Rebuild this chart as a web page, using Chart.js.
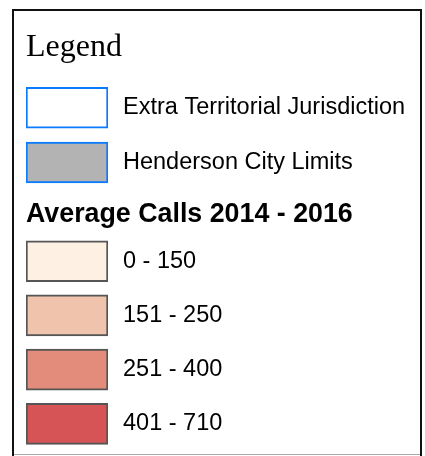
<!DOCTYPE html>
<html>
<head>
<meta charset="utf-8">
<script src="https://cdn.jsdelivr.net/npm/chart.js@4.4.1/dist/chart.umd.min.js"></script>
<style>
  html, body { margin: 0; padding: 0; background: #fff; overflow: hidden; }
  #box {
    position: absolute; left: 12px; top: 9px; width: 410px; height: 470px;
    border: 2px solid #111; box-sizing: border-box;
  }
  .wrap { position: absolute; left: 0; width: 406px; }
  #w1 { top: 0; height: 208px; }
  #w2 { top: 180px; height: 289px; }
  #rule { position: absolute; left: 0; top: 443px; width: 406px; height: 1px; background: #aaa; }
</style>
</head>
<body>
<div id="box">
  <div class="wrap" id="w1"><canvas id="boundaryChart"></canvas></div>
  <div class="wrap" id="w2"><canvas id="callsChart"></canvas></div>
  <div id="rule"></div>
</div>
<script>
// legend rows
const boundaryLabels = ["Extra Territorial Jurisdiction", "Henderson City Limits"];
const boundaryFill = ["#ffffff", "#b3b3b3"];
const boundaryEdge = ["#0a7bff", "#0a7bff"];

const callsTitle = "Average Calls 2014 - 2016";
const callsLabels = ["0 - 150", "151 - 250", "251 - 400", "401 - 710"];
const callsFill = ["#fff0e4", "#f0c3ac", "#e38c7b", "#d65456"];
const callsEdge = ["#555555", "#555555", "#555555", "#555555"];

// every swatch is the same size: a floating bar from 0 to 1
const swatch = [0, 1];

const SWATCH_RIGHT = 94; // right edge of swatches inside the canvas

function makeLegendChart(id, labels, fill, edge, title) {
  const ctx = document.getElementById(id).getContext("2d");
  return new Chart(ctx, {
    type: "bar",
    data: {
      labels: labels,
      datasets: [
        {
          data: labels.map(() => swatch),
          backgroundColor: fill,
          borderColor: edge,
          borderWidth: 2,
          borderSkipped: false,
          barThickness: 41,
        },
      ],
    },
    options: {
      indexAxis: "y",
      responsive: true,
      maintainAspectRatio: false,
      animation: false,
      layout: { padding: { left: 12, right: 0, top: 0, bottom: 0 } },
      scales: {
        x: { display: false, min: 0, max: 1 },
        y: {
          position: "right",
          grid: { display: false, drawTicks: false },
          border: { display: false },
          ticks: {
            padding: 15,
            color: "#000",
            font: { family: "'Liberation Sans', Arial, sans-serif", size: 23.5 },
          },
          afterFit: (scale) => {
            scale.width = scale.chart.width - SWATCH_RIGHT;
          },
        },
      },
      plugins: {
        legend: { display: false },
        tooltip: { enabled: false },
        title: {
          display: true,
          text: title.text,
          align: "start",
          color: "#000",
          font: title.font,
          padding: title.padding,
        },
      },
    },
  });
}

makeLegendChart("boundaryChart", boundaryLabels, boundaryFill, boundaryEdge, {
  text: "Legend",
  font: { family: "'Liberation Serif', 'Times New Roman', serif", size: 32, weight: "normal" },
  padding: { top: 17, bottom: 14 },
});

makeLegendChart("callsChart", callsLabels, callsFill, callsEdge, {
  text: callsTitle,
  font: { family: "'Liberation Sans', Arial, sans-serif", size: 26.8, weight: "bold" },
  padding: { top: 8, bottom: 3 },
});
</script>
</body>
</html>
